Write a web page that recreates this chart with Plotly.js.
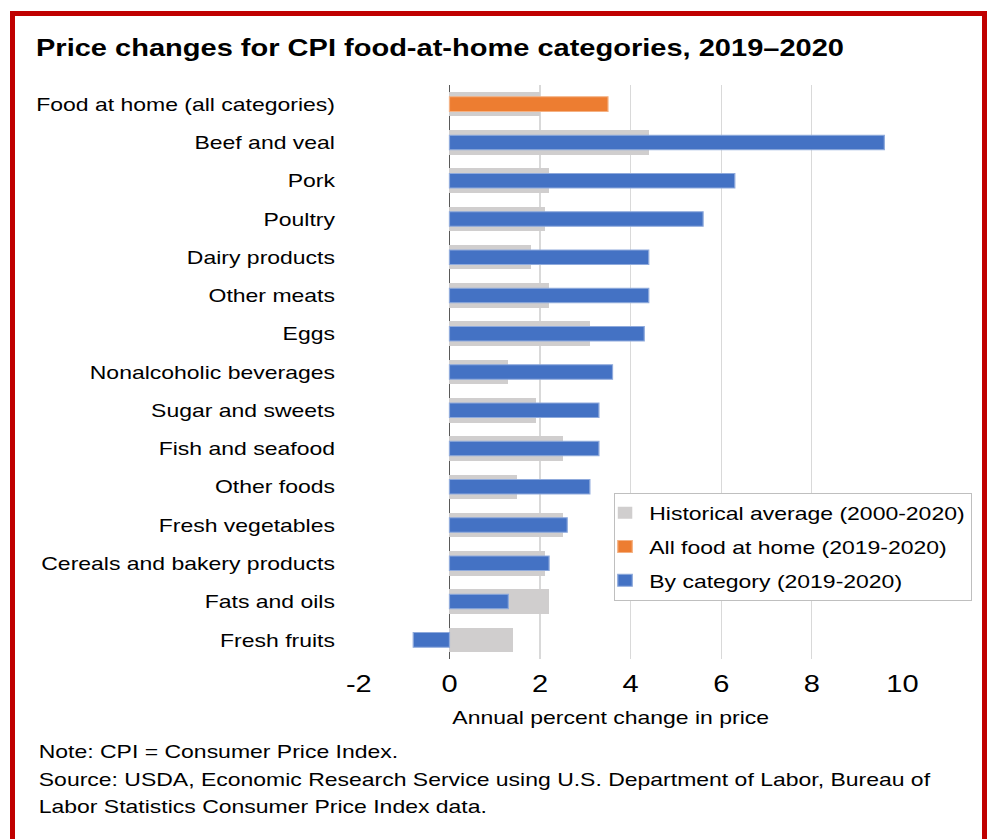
<!DOCTYPE html>
<html>
<head>
<meta charset="utf-8">
<script src="https://cdn.plot.ly/plotly-3.0.1.min.js"></script>
<style>
html,body{margin:0;padding:0;background:#fff;}
#wrap{position:relative;width:988px;height:839px;overflow:hidden;}
#chart{position:absolute;left:0;top:0;width:817px;height:839px;transform-origin:0 0;}
#frame{position:absolute;left:10px;top:11px;width:967px;height:900px;border:5px solid #c00000;pointer-events:none;box-sizing:content-box;}
</style>
</head>
<body>
<div id="wrap"><div id="chart"></div><div id="frame"></div></div>
<script>
const categories = ["Food at home (all categories)","Beef and veal","Pork","Poultry","Dairy products","Other meats","Eggs","Nonalcoholic beverages","Sugar and sweets","Fish and seafood","Other foods","Fresh vegetables","Cereals and bakery products","Fats and oils","Fresh fruits"];
const historical = [2.0,4.4,2.2,2.1,1.8,2.2,3.1,1.3,1.9,2.5,1.5,2.5,2.1,2.2,1.4];
const allFood = [3.5,null,null,null,null,null,null,null,null,null,null,null,null,null,null];
const byCategory = [null,9.6,6.3,5.6,4.4,4.4,4.3,3.6,3.3,3.3,3.1,2.6,2.2,1.3,-0.8];
const xTicks = [-2,0,2,4,6,8,10];
const titleText = "Price changes for CPI food-at-home categories, 2019–2020";
const xTitle = "Annual percent change in price";
const notes = ["Note: CPI = Consumer Price Index.","Source: USDA, Economic Research Service using U.S. Department of Labor, Bureau of","Labor Statistics Consumer Price Index data."];
const seriesNames = ["Historical average (2000-2020)","All food at home (2019-2020)","By category (2019-2020)"];

// the reference text is horizontally wide; draw at a narrower width and stretch horizontally
const OUTW=988, H=839, S=1.2093;
const W=Math.round(OUTW/S);
document.getElementById('chart').style.transform='scaleX('+(OUTW/W)+')';
const sx = p => p*W/OUTW;          // reference px -> inner px
const L=sx(358), R=W-sx(903), T=85, B=180;
const pw=W-L-R, ph=H-T-B;
const px2x = p => (sx(p)-L)/pw;
const py2y = p => (H-B-p)/ph;
const FONT = "Liberation Sans, Arial, Helvetica, sans-serif";

const traces = [
  {type:'bar',orientation:'h',name:seriesNames[0],y:categories,x:historical,width:0.64,
   marker:{color:'#d0cece',line:{width:0}},legendgroup:'a',hoverinfo:'x+y'},
  {type:'bar',orientation:'h',name:seriesNames[1],y:categories,x:allFood,width:0.38,
   marker:{color:'#ed7d31',line:{color:'#f4b183',width:1}},legendgroup:'b',hoverinfo:'x+y'},
  {type:'bar',orientation:'h',name:seriesNames[2],y:categories,x:byCategory,width:0.38,
   marker:{color:'#4472c4',line:{color:'#8faadc',width:1}},legendgroup:'c',hoverinfo:'x+y'}
];

const annotations = [
  {text:xTitle,xref:'paper',yref:'paper',x:px2x(611),y:py2y(717),xanchor:'center',yanchor:'middle',showarrow:false,font:{family:FONT,size:19,color:'#000'}}
];
const noteY=[752,779,806];
notes.forEach((t,i)=>annotations.push({text:t,xref:'paper',yref:'paper',x:px2x(36),y:py2y(noteY[i]),xanchor:'left',yanchor:'middle',showarrow:false,font:{family:FONT,size:19,color:'#000'}}));

const layout = {
  width:W,height:H,
  margin:{l:L,r:R,t:T,b:B,pad:0},
  paper_bgcolor:'#fff',plot_bgcolor:'#fff',
  font:{family:FONT,color:'#000'},
  title:{text:'<b>'+titleText+'</b>',xref:'container',yref:'container',x:sx(36)/W,xanchor:'left',y:1-48/H,yanchor:'middle',font:{family:FONT,size:24,color:'#000'}},
  barmode:'overlay',
  bargap:0,
  showlegend:true,
  legend:{x:px2x(614),y:py2y(493),xanchor:'left',yanchor:'top',bgcolor:'#fff',bordercolor:'#bfbfbf',borderwidth:1,
    font:{family:FONT,size:19,color:'#000'},tracegroupgap:6,traceorder:'grouped',itemwidth:30,indentation:-12},
  xaxis:{range:[-2.02,10.02],tickvals:xTicks,ticktext:xTicks.map(String),showgrid:true,gridcolor:'#d9d9d9',gridwidth:1,
    zeroline:true,zerolinecolor:'#595959',zerolinewidth:1.5,showline:false,ticks:'',
    tickfont:{family:FONT,size:24,color:'#000'},ticklabelstandoff:8,fixedrange:true},
  yaxis:{type:'category',categoryorder:'array',categoryarray:categories,autorange:'reversed',showgrid:false,zeroline:false,showline:false,ticks:'',
    tickfont:{family:FONT,size:19,color:'#000'},ticklabelstandoff:18,fixedrange:true},
  annotations:annotations
};
Plotly.newPlot('chart',traces,layout,{displayModeBar:false,staticPlot:true});
</script>
</body>
</html>
